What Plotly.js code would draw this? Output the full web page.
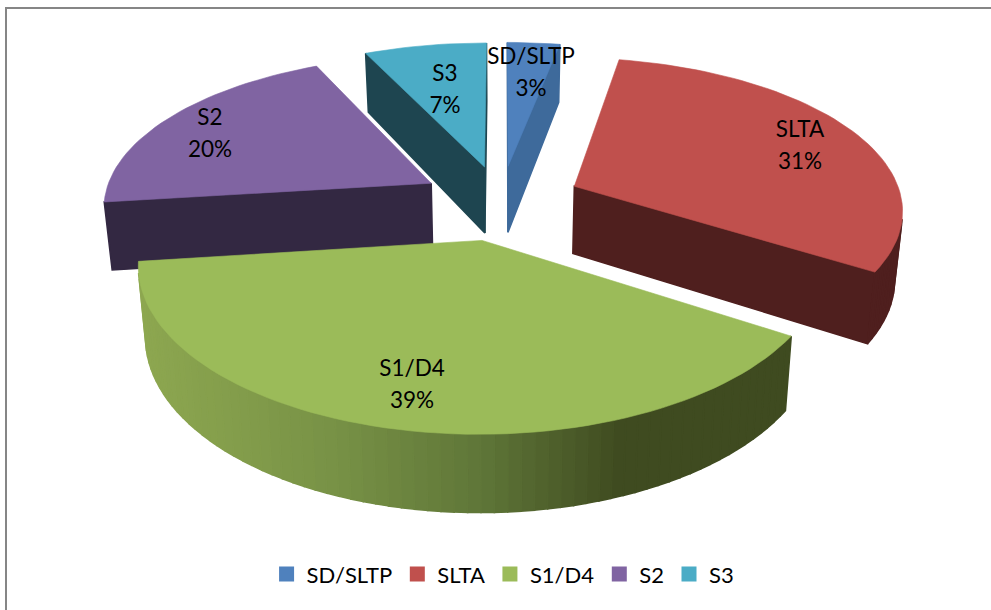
<!DOCTYPE html>
<html><head><meta charset="utf-8">
<script src="https://cdn.plot.ly/plotly-3.0.1.min.js"></script>
<style>html,body{margin:0;padding:0;background:#fff}#c{width:991px;height:610px}</style>
</head><body><div id="c"></div>
<script>
// data
const categories = ['SD/SLTP','SLTA','S1/D4','S2','S3'];
const shares = [3,31,39,20,7];
// style
const topColors  = ['#4F81BD','#C0504D','#9BBB59','#8064A2','#4BACC6'];
const wallColors = ['#3E6A9B','#4F1F1E',null,'#332842','#1E4550'];
const explosion  = [78,81,84,81,78];
const labelAt    = [[531,74],[800,147],[412,386],[210,135],[445,91]];
const drawOrder  = [0,4,3,1,2];
// projection of the tilted pie
const P = {cx:501, cy:201, R:328, K:0.463, Dx:2367, Dy:2200, bottomScale:0.98, h0:68, hSlope:0.025};
function project(X,Y,bottom){
  let x=P.cx+X/(1+Y/P.Dx), y=P.cy-P.K*Y/(1+Y/P.Dy);
  if(bottom){x=P.cx+(x-P.cx)*P.bottomScale; y+=P.h0-P.hSlope*Y;}
  return [x,y];
}
function mix(a,b,t){return a.map((v,i)=>Math.round(v+(b[i]-v)*t));}
function s1Rim(x){ // shading of the large slice runs left to right
  const stops=[[140,[141,167,80]],[330,[120,146,70]],[480,[95,118,56]],[620,[63,75,32]],[800,[63,75,32]]];
  for(let i=1;i<stops.length;i++){ if(x<=stops[i][0]){
    const t=Math.max(0,(x-stops[i-1][0])/(stops[i][0]-stops[i-1][0]));
    const c=mix(stops[i-1][1],stops[i][1],t); return `rgb(${c.join(',')})`;}}
  return 'rgb(63,75,32)';
}
const total=shares.reduce((a,b)=>a+b,0);
let cum=0;
const slices=shares.map((v,i)=>{
  const a=cum/total*2*Math.PI; cum+=v; const b=cum/total*2*Math.PI; const m=(a+b)/2;
  return {i,a,b,ox:explosion[i]*Math.sin(m),oy:explosion[i]*Math.cos(m)};
});
const traces=[];
function poly(pts,color,lw){
  traces.push({type:'scatter',mode:'lines',x:pts.map(p=>p[0]).concat(pts[0][0]),y:pts.map(p=>p[1]).concat(pts[0][1]),
    fill:'toself',fillcolor:color,line:{color:color,width:lw},hoverinfo:'skip',showlegend:false});
}
function area(q){let s=0;for(let i=0;i<q.length;i++){const n=q[(i+1)%q.length];s+=q[i][0]*n[1]-n[0]*q[i][1];}return s/2;}
function wall(A,B,color){
  const q=[project(A[0],A[1],false),project(B[0],B[1],false),project(B[0],B[1],true),project(A[0],A[1],true)];
  if(area(q)<-0.5) poly(q,color(q),1.6);
}
drawOrder.forEach(idx=>{
  const s=slices[idx];
  const rim=t=>[s.ox+P.R*Math.sin(t),s.oy+P.R*Math.cos(t)];
  const apex=[s.ox,s.oy];
  const col=q=>wallColors[idx]||s1Rim((q[0][0]+q[1][0])/2);
  wall(apex,rim(s.a),col);
  wall(rim(s.b),apex,col);
  const n=Math.max(4,Math.ceil((s.b-s.a)/(Math.PI/90)));
  const pts=[project(apex[0],apex[1],false)];
  for(let k=0;k<n;k++){
    const t0=s.a+(s.b-s.a)*k/n,t1=s.a+(s.b-s.a)*(k+1)/n;
    wall(rim(t0),rim(t1),col);
  }
  for(let k=0;k<=n;k++){const r=rim(s.a+(s.b-s.a)*k/n);pts.push(project(r[0],r[1],false));}
  poly(pts,topColors[idx],0.6);
});
// data labels
const lx=[],ly=[],lt=[];
categories.forEach((c,i)=>{
  lx.push(labelAt[i][0],labelAt[i][0]); ly.push(labelAt[i][1]-16,labelAt[i][1]+16);
  lt.push(c,shares[i]+'%');
});
traces.push({type:'scatter',mode:'text',x:lx,y:ly,text:lt,textposition:'middle center',
  textfont:{family:'Lato, sans-serif',size:22.5,color:'#000'},hoverinfo:'skip',showlegend:false});
// legend
categories.forEach((c,i)=>traces.push({type:'scatter',mode:'markers',x:[-100],y:[-100],name:c,
  marker:{symbol:'square',size:15,color:topColors[i]},hoverinfo:'skip'}));
const frame={color:'#868686',width:2};
Plotly.newPlot('c',traces,{
  width:991,height:610,margin:{l:0,r:0,t:0,b:0},paper_bgcolor:'#fff',plot_bgcolor:'#fff',
  xaxis:{range:[0,991],visible:false,fixedrange:true},
  yaxis:{range:[610,0],visible:false,fixedrange:true},
  showlegend:true,
  legend:{orientation:'h',x:0.269,y:0.093,xanchor:'left',yanchor:'top',font:{family:'Lato, sans-serif',size:22,color:'#000'},bgcolor:'rgba(0,0,0,0)'},
  shapes:[
   {type:'line',xref:'x',yref:'y',x0:6,x1:6,y0:7,y1:610,line:frame},
   {type:'line',xref:'x',yref:'y',x0:5,x1:991,y0:8,y1:8,line:frame}
  ]
},{displayModeBar:false,staticPlot:true});
</script></body></html>
